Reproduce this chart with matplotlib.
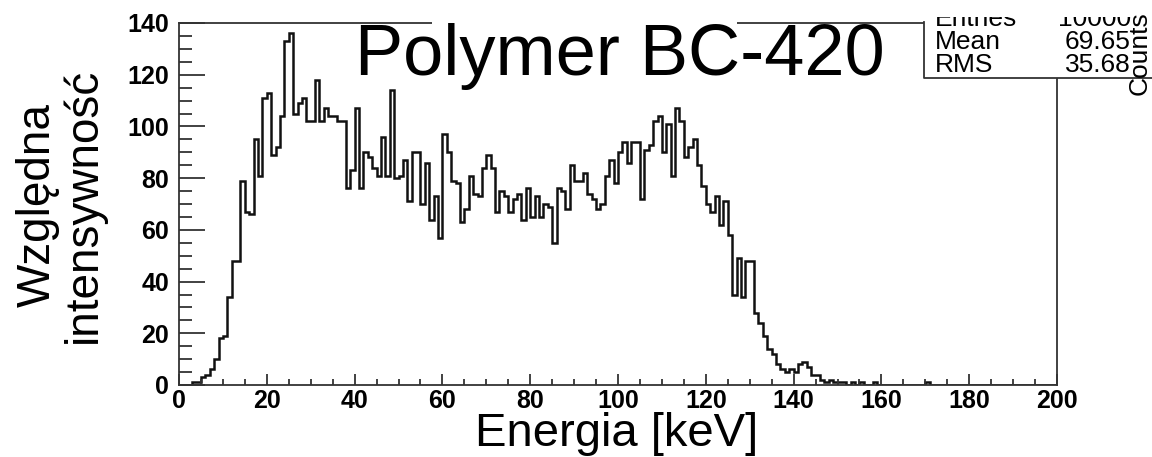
import numpy as np
import matplotlib.pyplot as plt
from matplotlib.patches import Rectangle
from matplotlib.lines import Line2D
from matplotlib.ticker import MultipleLocator

plt.rcParams['font.family'] = ['Liberation Sans', 'DejaVu Sans']

# histogram: 1 keV bins from 0 to 200 keV
energy_edges = np.arange(0, 201, 1)
counts = [
    0, 0, 0, 1, 1, 3, 4, 6, 10, 18,
    19, 34, 48, 48, 79, 67, 66, 95, 81, 111,
    113, 89, 92, 104, 133, 136, 105, 109, 111, 102,
    102, 118, 102, 107, 104, 104, 102, 102, 76, 83,
    107, 76, 90, 88, 84, 81, 96, 81, 114, 80,
    81, 87, 71, 90, 90, 70, 86, 64, 73, 57,
    97, 90, 79, 78, 63, 68, 81, 74, 73, 84,
    89, 84, 67, 75, 73, 67, 72, 74, 64, 76,
    65, 73, 65, 70, 69, 55, 76, 75, 68, 85,
    79, 79, 82, 74, 72, 68, 70, 81, 87, 78,
    90, 94, 86, 94, 94, 72, 91, 93, 102, 104,
    90, 101, 81, 107, 102, 88, 92, 95, 85, 77,
    70, 67, 73, 62, 71, 58, 35, 49, 34, 48,
    48, 28, 24, 19, 14, 12, 8, 6, 5, 6,
    5, 8, 9, 7, 4, 4, 2, 1, 2, 1,
    1, 1, 0, 1, 0, 1, 0, 0, 1, 0,
    0, 0, 0, 0, 0, 0, 0, 0, 0, 0,
    1, 0, 0, 0, 0, 0, 0, 0, 0, 0,
    0, 0, 0, 0, 0, 0, 0, 0, 0, 0,
    0, 0, 0, 0, 0, 0, 0, 0, 0, 0,
]

stat_names = ['Entries', 'Mean', 'RMS']
stat_values = ['10000', '69.65', '35.68']

W, H = 1152, 457
fig = plt.figure(figsize=(W / 100, H / 100), dpi=100)
ax = fig.add_axes([179 / W, 1 - 385 / H, (1057 - 179) / W, (385 - 23) / H])

ax.stairs(counts, energy_edges, color='#111111', lw=1.8)
ax.set_xlim(0, 200)
ax.set_ylim(0, 140)

ax.xaxis.set_major_locator(MultipleLocator(20))
ax.xaxis.set_minor_locator(MultipleLocator(5))
ax.yaxis.set_major_locator(MultipleLocator(20))
ax.yaxis.set_minor_locator(MultipleLocator(5))
ax.tick_params(which='both', direction='in', top=False, right=False,
               color='#333333', width=1.3, labelsize=18)
ax.tick_params(axis='y', which='major', length=19, pad=7)
ax.tick_params(axis='y', which='minor', length=9.5)
ax.tick_params(axis='x', which='major', length=8, pad=3)
ax.tick_params(axis='x', which='minor', length=4)
for lab in ax.get_xticklabels() + ax.get_yticklabels():
    lab.set_fontweight('bold')
for sp in ax.spines.values():
    sp.set_linewidth(1.3)
    sp.set_color('#333333')

# white title box hiding part of the frame
fig.add_artist(Rectangle((432 / W, 1 - 30 / H), (737 - 432) / W, 12 / H,
                         transform=fig.transFigure, facecolor='white',
                         edgecolor='none', zorder=1))
fig.text(620 / W, 1 - 75 / H, 'Polymer BC-420', ha='center', va='baseline',
         fontsize=52, zorder=2)

# stats box (cut off at top and right)
fig.add_artist(Rectangle((924 / W, 1 - 78 / H), (W - 924) / W, 78 / H,
                         transform=fig.transFigure, facecolor='white',
                         edgecolor='none', zorder=2))
fig.add_artist(Line2D([924 / W, 924 / W, 1], [1 - 22 / H, 1 - 78 / H, 1 - 78 / H],
                      transform=fig.transFigure, color='#333333', lw=1.3, zorder=3))
row_y = [19, 42, 65]
for name, val, y in zip(stat_names, stat_values, row_y):
    fig.text(935 / W, 1 - y / H, name, ha='left', va='center', fontsize=19, zorder=3)
    fig.text(1131 / W, 1 - y / H, val, ha='right', va='center', fontsize=19, zorder=3)
fig.add_artist(Rectangle((920 / W, 1 - 17 / H), (W - 920) / W, 17 / H,
                         transform=fig.transFigure, facecolor='white',
                         edgecolor='none', zorder=4))
fig.text(1140 / W, 1 - 53 / H, 'Counts', rotation=90, ha='center', va='center',
         fontsize=19, zorder=5)

fig.text(617 / W, 1 - 446 / H, 'Energia [keV]', ha='center', va='baseline', fontsize=34)
fig.text(61 / W, 1 - 205 / H, 'Względna\nintensywność', rotation=90, ha='center',
         va='center', fontsize=33, linespacing=1.05)

fig.savefig('out.png', dpi=100)
